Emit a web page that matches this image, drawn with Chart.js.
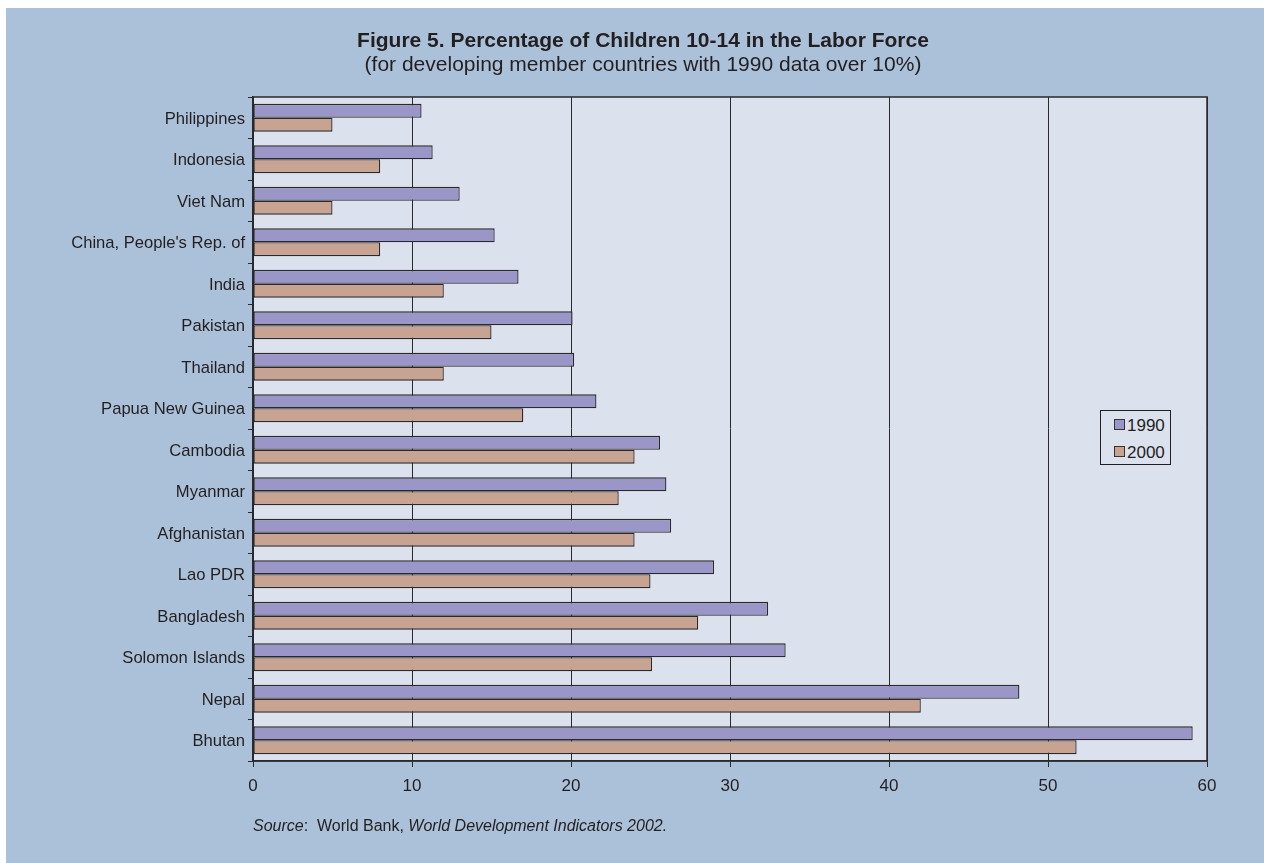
<!DOCTYPE html>
<html>
<head>
<meta charset="utf-8">
<script src="https://cdn.jsdelivr.net/npm/chart.js@4/dist/chart.umd.min.js"></script>
<style>
  html, body { margin: 0; padding: 0; background: #ffffff; }
  #wrap { position: relative; width: 1264px; height: 863px; overflow: hidden; font-family: "Liberation Sans", Arial, sans-serif; color: #231f20; }
  #chart { position: absolute; left: 0; top: 0; }
  .title { position: absolute; left: 0; width: 1286px; text-align: center; white-space: nowrap; }
  #t1 { top: 28px; font-size: 21px; line-height: 24px; font-weight: bold; }
  #t2 { top: 52px; font-size: 21px; line-height: 24px; }
  #source { position: absolute; left: 253px; top: 817px; font-size: 16px; line-height: 18px; white-space: nowrap; }
  #legend { position: absolute; left: 1100px; top: 410px; width: 69px; height: 53px; border: 1px solid #231f20; background: #dce1ee; box-sizing: content-box; }
  .item { position: absolute; left: 13px; height: 20px; font-size: 17px; line-height: 20px; white-space: nowrap; }
  .item .sw { display: inline-block; width: 9px; height: 9px; border: 1px solid #333; margin-right: 2px; vertical-align: 1px; }
</style>
</head>
<body>
<div id="wrap">
  <canvas id="chart" width="1264" height="863"></canvas>
  <div class="title" id="t1">Figure 5. Percentage of Children 10-14 in the Labor Force</div>
  <div class="title" id="t2">(for developing member countries with 1990 data over 10%)</div>
  <div id="legend"></div>
  <div id="source"><i>Source</i>:&nbsp; World Bank, <i>World Development Indicators 2002.</i></div>
</div>
<script>
// ---- data ----
const countries = [
  'Philippines', 'Indonesia', 'Viet Nam', "China, People's Rep. of", 'India',
  'Pakistan', 'Thailand', 'Papua New Guinea', 'Cambodia', 'Myanmar',
  'Afghanistan', 'Lao PDR', 'Bangladesh', 'Solomon Islands', 'Nepal', 'Bhutan'
];
const values1990 = [10.6, 11.3, 13.0, 15.2, 16.7, 20.1, 20.2, 21.6, 25.6, 26.0, 26.3, 29.0, 32.4, 33.5, 48.2, 59.1];
const values2000 = [5.0, 8.0, 5.0, 8.0, 12.0, 15.0, 12.0, 17.0, 24.0, 23.0, 24.0, 25.0, 28.0, 25.1, 42.0, 51.8];
const seriesNames = ['1990', '2000'];
const xMin = 0, xMax = 60, xStep = 10;

// ---- styling ----
const COLOR_1990 = '#9b96c8';
const COLOR_2000 = '#c8a392';
const EDGE = '#2a2a2a';
const PAGE_BG = '#abc0d9';
const PLOT_BG = '#dce1ee';
const TEXT = '#231f20';
const FONT = '"Liberation Sans", Arial, sans-serif';

// page backdrop + plot fill + frame around the plot
const backdrop = {
  id: 'backdrop',
  beforeDraw(chart) {
    const { ctx, chartArea: a } = chart;
    ctx.save();
    ctx.fillStyle = '#ffffff';
    ctx.fillRect(0, 0, chart.width, chart.height);
    ctx.fillStyle = PAGE_BG;
    ctx.fillRect(6, 8, chart.width - 6, chart.height - 8);
    ctx.fillStyle = PLOT_BG;
    ctx.fillRect(a.left, a.top, a.right - a.left, a.bottom - a.top);
    ctx.restore();
  },
  afterDatasetsDraw(chart) {
    const { ctx, chartArea: a } = chart;
    ctx.save();
    ctx.strokeStyle = EDGE;
    ctx.lineWidth = 1.5;
    ctx.strokeRect(a.left, a.top, a.right - a.left, a.bottom - a.top);
    ctx.restore();
  }
};

const chart = new Chart(document.getElementById('chart'), {
  type: 'bar',
  data: {
    labels: countries,
    datasets: [
      { label: seriesNames[0], data: values1990, backgroundColor: COLOR_1990, borderColor: EDGE, borderWidth: 1.3, borderSkipped: false },
      { label: seriesNames[1], data: values2000, backgroundColor: COLOR_2000, borderColor: EDGE, borderWidth: 1.3, borderSkipped: false }
    ]
  },
  options: {
    indexAxis: 'y',
    responsive: false,
    animation: false,
    devicePixelRatio: 1,
    categoryPercentage: 0.67,
    barPercentage: 1.0,
    layout: { padding: { left: 0, right: 57, top: 97, bottom: 62 } },
    plugins: {
      legend: { display: false },
      title: { display: false },
      tooltip: { enabled: false }
    },
    scales: {
      x: {
        min: xMin,
        max: xMax,
        afterFit: s => { s.height = 40; },
        ticks: { stepSize: xStep, color: TEXT, font: { family: FONT, size: 17 }, padding: 9 },
        grid: { color: EDGE, lineWidth: 1, tickLength: 6, drawTicks: true },
        border: { color: EDGE, width: 1.5 }
      },
      y: {
        afterFit: s => { s.width = 253; },
        ticks: { color: TEXT, font: { family: FONT, size: 16.6 }, padding: 3, labelOffset: 1.5, autoSkip: false },
        grid: { drawOnChartArea: false, color: EDGE, tickLength: 5, offset: true },
        border: { color: EDGE, width: 1.5 }
      }
    }
  },
  plugins: [backdrop]
});

// legend built from the dataset colours
const legend = document.getElementById('legend');
chart.data.datasets.forEach((ds, i) => {
  const item = document.createElement('div');
  item.className = 'item';
  item.style.top = (5 + i * 27) + 'px';
  const sw = document.createElement('span');
  sw.className = 'sw';
  sw.style.background = ds.backgroundColor;
  item.appendChild(sw);
  item.appendChild(document.createTextNode(ds.label));
  legend.appendChild(item);
});
</script>
</body>
</html>
